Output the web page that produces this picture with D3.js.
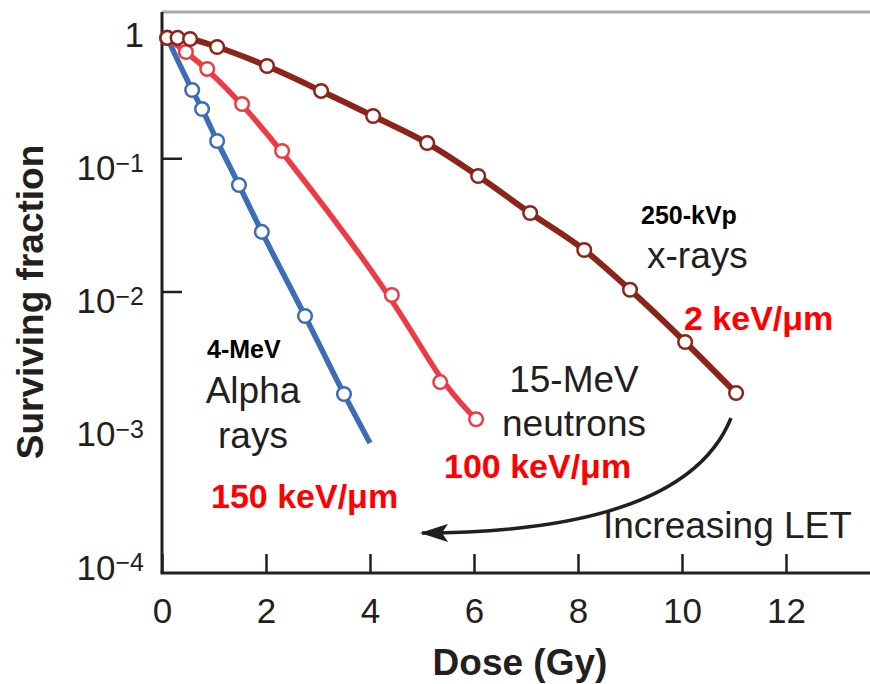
<!DOCTYPE html>
<html>
<head>
<meta charset="utf-8">
<script src="https://cdn.jsdelivr.net/npm/d3@7"></script>
<style>
  body { margin: 0; background: #fff; }
  svg { font-family: "Liberation Sans", Arial, Helvetica, sans-serif; }
  .tick text { fill: #231f20; font-size: 35px; }
  .lbl { fill: #231f20; font-size: 37px; }
  .lbl-b { fill: #000; font-size: 25px; font-weight: bold; }
  .let { fill: #ff0000; font-size: 34px; font-weight: bold; }
  .title { fill: #231f20; font-size: 37px; font-weight: bold; }
</style>
</head>
<body>
<svg id="mainsvg" width="870" height="684"></svg>
<script>
// 250-kVp x-rays
const xrayDose = [0.1, 0.3, 0.54, 1.06, 2.02, 3.06, 4.06, 5.1, 6.08, 7.08, 8.12, 9.0, 10.06, 11.04];
const xraySF   = [0.80, 0.80, 0.785, 0.684, 0.492, 0.320, 0.2075, 0.130, 0.0736, 0.0388, 0.0205, 0.0103, 0.00418, 0.00173];
// 15-MeV neutrons
const neutronDose = [0.1, 0.46, 0.87, 1.54, 2.31, 4.42, 5.35, 6.04];
const neutronSF   = [0.80, 0.627, 0.468, 0.2554, 0.1133, 0.00941, 0.00209, 0.00110];
// 4-MeV alpha rays (last point is end of line, no marker)
const alphaDose   = [0.1, 0.58, 0.77, 1.06, 1.48, 1.92, 2.75, 3.5, 4.0];
const alphaSF     = [0.80, 0.325, 0.234, 0.1348, 0.0630, 0.0280, 0.00655, 0.00170, 0.000729];
const alphaMarked = [true, true, true, true, true, true, true, true, false];

const xTicks = [0, 2, 4, 6, 8, 10, 12];
const yTicks = [1, 1e-1, 1e-2, 1e-3, 1e-4];
const yTickExp = ['', '\u22121', '\u22122', '\u22123', '\u22124'];

const svg = d3.select('#mainsvg');
const width = +svg.attr('width');
const height = +svg.attr('height');
const plotLeft = 162, plotTop = 12, plotBottom = 573;

const xScale = d3.scaleLinear().domain([0, (width - plotLeft) / 52]).range([plotLeft, width]);
const yScale = d3.scaleLog().domain([1e-4, 1]).range([558, 25]);

// frame
svg.append('line').attr('x1', plotLeft).attr('x2', width).attr('y1', plotTop).attr('y2', plotTop)
    .attr('stroke', '#a7a9ac').attr('stroke-width', 3);
svg.append('line').attr('x1', plotLeft).attr('x2', plotLeft).attr('y1', plotTop).attr('y2', plotBottom)
    .attr('stroke', '#231f20').attr('stroke-width', 3);
svg.append('line').attr('x1', plotLeft - 1.5).attr('x2', width).attr('y1', plotBottom).attr('y2', plotBottom)
    .attr('stroke', '#231f20').attr('stroke-width', 3);

// x axis
const xAxis = d3.axisBottom(xScale).tickValues(xTicks).tickSizeInner(-19).tickSizeOuter(0).tickPadding(25);
const xg = svg.append('g').attr('transform', `translate(0, ${plotBottom})`).call(xAxis);
xg.select('.domain').remove();
xg.selectAll('.tick line').attr('stroke', '#231f20').attr('stroke-width', 2.5);
xg.selectAll('.tick text').attr('font-family', null).attr('font-size', null);

// y axis
const yAxis = d3.axisLeft(yScale).tickValues(yTicks).tickSizeInner(-20).tickSizeOuter(0).tickPadding(18);
const yg = svg.append('g').attr('transform', `translate(${plotLeft}, 0)`).call(yAxis);
yg.select('.domain').remove();
yg.selectAll('.tick line')
    .attr('stroke', '#231f20').attr('stroke-width', 2.5)
    .attr('display', d => (d === 1e-1 || d === 1e-2) ? null : 'none');
yg.selectAll('.tick text').each(function(d, i) {
    const t = d3.select(this).attr('font-family', null).attr('font-size', null).attr('dy', '0.6em').text('');
    if (i === 0) { t.text('1'); return; }
    t.append('tspan').text('10');
    t.append('tspan').attr('dy', '-0.33em').style('font-size', '25px').text(yTickExp[i]);
});

// curves
const series = [
    { color: '#3d6db5', w: 5.5, dose: alphaDose, sf: alphaSF, mark: alphaMarked, curve: d3.curveMonotoneX },
    { color: '#ec3b44', w: 5.5, dose: neutronDose, sf: neutronSF, curve: d3.curveBasis },
    { color: '#8b2519', w: 6, dose: xrayDose, sf: xraySF, curve: d3.curveMonotoneX }
];

series.forEach(s => {
    const pts = s.dose.map((d, i) => ({ dose: d, sf: s.sf[i], mark: s.mark ? s.mark[i] : true }));
    const line = d3.line()
        .x(d => xScale(d.dose))
        .y(d => yScale(d.sf))
        .curve(s.curve);
    svg.append('path').datum(pts)
        .attr('fill', 'none')
        .attr('stroke', s.color)
        .attr('stroke-width', s.w)
        .attr('d', line);
    svg.append('g').selectAll('circle')
        .data(pts.filter(p => p.mark))
        .join('circle')
        .attr('cx', d => xScale(d.dose))
        .attr('cy', d => yScale(d.sf))
        .attr('r', 6.8)
        .attr('fill', '#fff')
        .attr('stroke', s.color)
        .attr('stroke-width', 2.5);
});

// arrow
svg.append('defs').append('marker')
    .attr('id', 'head')
    .attr('markerUnits', 'userSpaceOnUse')
    .attr('viewBox', '0 0 28 18')
    .attr('markerWidth', 28).attr('markerHeight', 18)
    .attr('refX', 26).attr('refY', 9)
    .attr('orient', 'auto')
    .append('path').attr('d', 'M0,0 L28,9 L0,18 L6,9 Z').attr('fill', '#231f20');
const arrow = d3.path();
arrow.moveTo(731, 418);
arrow.quadraticCurveTo(685, 532, 422, 533);
svg.append('path').attr('d', arrow.toString())
    .attr('fill', 'none').attr('stroke', '#231f20').attr('stroke-width', 3.5)
    .attr('marker-end', 'url(#head)');

// annotations
const note = (txt, x, y, cls, anchor) => svg.append('text')
    .attr('class', cls).attr('x', x).attr('y', y)
    .attr('text-anchor', anchor || 'start').text(txt);

note('250-kVp', 641, 224, 'lbl-b');
note('x-rays', 647, 268, 'lbl');
note('2 keV/\u03bcm', 684, 330, 'let');
note('4-MeV', 207, 358, 'lbl-b');
note('Alpha', 253, 403, 'lbl', 'middle');
note('rays', 253, 448, 'lbl', 'middle');
note('150 keV/\u03bcm', 211, 508, 'let');
note('15-MeV', 574, 392, 'lbl', 'middle');
note('neutrons', 574, 436, 'lbl', 'middle');
note('100 keV/\u03bcm', 444, 478, 'let');
note('Increasing LET', 603, 538, 'lbl');

// axis titles
note('Dose (Gy)', 520, 675, 'title', 'middle');
svg.append('text').attr('class', 'title')
    .attr('transform', 'translate(43, 302) rotate(-90)')
    .attr('text-anchor', 'middle')
    .text('Surviving fraction');
</script>
</body>
</html>
